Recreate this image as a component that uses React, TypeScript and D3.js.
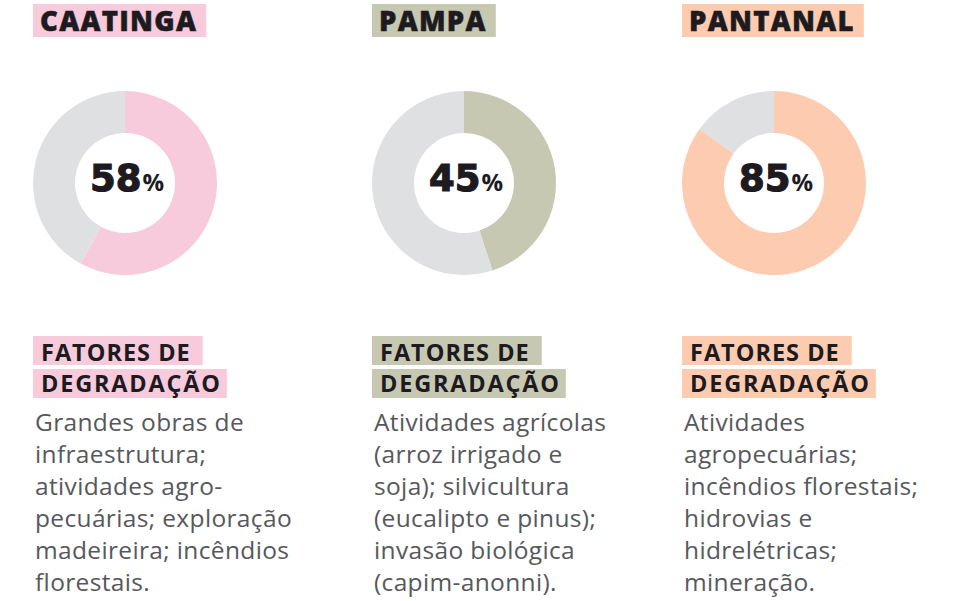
import React, { useEffect, useRef } from "react";
import * as d3 from "d3";

const biomes = ["CAATINGA", "PAMPA", "PANTANAL"];
const percents = [58, 45, 85];
const biomeColors = ["#f8cbdc", "#c6c8b2", "#fdcbb0"];
const restColor = "#dfe0e2";
const factorTitle = ["FATORES DE", "DEGRADAÇÃO"];
const factorLines = [
  ["Grandes obras de", "infraestrutura;", "atividades agro-", "pecuárias; exploração", "madeireira; incêndios", "florestais."],
  ["Atividades agrícolas", "(arroz irrigado e", "soja); silvicultura", "(eucalipto e pinus);", "invasão biológica", "(capim-anonni)."],
  ["Atividades", "agropecuárias;", "incêndios florestais;", "hidrovias e", "hidrelétricas;", "mineração."],
];

const W = 963, H = 601;
const FONT = "'Open Sans', 'Noto Sans', sans-serif";
const NUMFONT = "'DejaVu Sans', 'Open Sans', sans-serif";

export default function App() {
  const ref = useRef<SVGSVGElement>(null);
  useEffect(() => {
    const svg = d3.select(ref.current);
    svg.selectAll("*").remove();
    const lefts = [32, 371, 681];
    const pie = d3.pie<number>().sort(null).value((d) => d);
    const arc = d3.arc<d3.PieArcDatum<number>>().innerRadius(50).outerRadius(92);

    biomes.forEach((b, i) => {
      const left = lefts[i];
      const g = svg.append("g");
      // title
      const rect = g.append("rect").attr("fill", biomeColors[i]).attr("x", left + 1).attr("y", 4).attr("height", 33);
      const t = g.append("text").attr("x", left + 8).attr("y", 31).attr("font-family", FONT)
        .attr("font-weight", 800).attr("font-size", 27.5).attr("letter-spacing", 1.3)
        .attr("fill", "#1d1b1f").attr("stroke", "#1d1b1f").attr("stroke-width", 0.5).text(b);
      const tw = (t.node() as SVGTextElement).getComputedTextLength();
      rect.attr("width", tw + 16);

      // donut
      const cx = left + 93, cy = 183;
      const dg = g.append("g").attr("transform", `translate(${cx},${cy})`);
      const arcs = pie([percents[i], 100 - percents[i]]);
      dg.selectAll("path").data(arcs).join("path").attr("d", arc)
        .attr("fill", (_d, j) => (j === 0 ? biomeColors[i] : restColor));
      const pt = dg.append("text").attr("text-anchor", "middle").attr("x", 2).attr("y", 8)
        .attr("fill", "#1d1b1f");
      pt.append("tspan").attr("font-family", NUMFONT).attr("font-size", 37).attr("font-weight", 700)
        .attr("stroke", "#1d1b1f").attr("stroke-width", 1.2).attr("letter-spacing", 0)
        .text(String(percents[i]));
      pt.append("tspan").attr("font-family", FONT).attr("font-size", 24).attr("font-weight", 700)
        .attr("dx", 1).text("%");

      // factor title
      const fy = [336, 369];
      const fb = [361, 392];
      const fls = [1.0, 1.8];
      const fpad = [20, 13];
      factorTitle.forEach((ft, k) => {
        const r = g.append("rect").attr("fill", biomeColors[i]).attr("x", left + 1).attr("y", fy[k]).attr("height", 29);
        const tt = g.append("text").attr("x", left + 9).attr("y", fb[k]).attr("font-family", FONT)
          .attr("font-weight", 700).attr("font-size", 23.5).attr("letter-spacing", fls[k])
          .attr("fill", "#1d1b1f").text(ft);
        const w = (tt.node() as SVGTextElement).getComputedTextLength();
        r.attr("width", w + fpad[k]);
      });

      // body
      factorLines[i].forEach((line, k) => {
        g.append("text").attr("x", left + 3).attr("y", 431 + k * 32).attr("font-family", FONT)
          .attr("font-size", 24.5).attr("letter-spacing", 0.35).attr("fill", "#57585b").text(line);
      });
    });
  }, []);

  return (
    <div style={{ position: "absolute", left: 0, top: 0 }}>
      <svg ref={ref} width={W} height={H} style={{ display: "block", background: "#fff" }} />
    </div>
  );
}
